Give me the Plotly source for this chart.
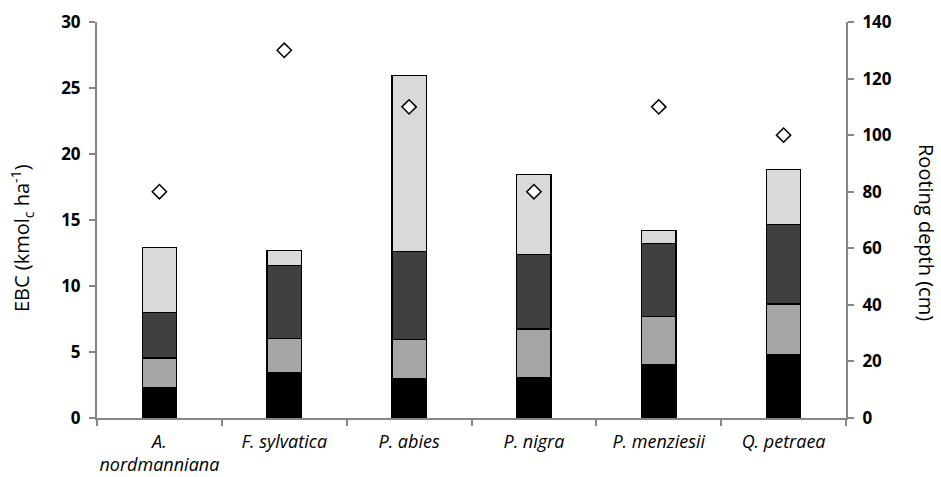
import plotly.graph_objects as go

# Tree species (x categories)
species = ["A.<br>nordmanniana", "F. sylvatica", "P. abies", "P. nigra", "P. menziesii", "Q. petraea"]

# EBC contributions per layer (kmolc ha-1), stacked bottom to top
layer_1 = [2.27, 3.45, 2.95, 3.03, 4.03, 4.79]
layer_2 = [2.27, 2.55, 2.98, 3.71, 3.66, 3.84]
layer_3 = [3.46, 5.53, 6.68, 5.62, 5.51, 6.00]
layer_4 = [4.94, 1.13, 13.32, 6.08, 0.98, 4.17]

# Rooting depth (cm), right axis
rooting_depth = [80, 130, 110, 80, 110, 100]

layers = [layer_1, layer_2, layer_3, layer_4]
fills = ["#000000", "#a6a6a6", "#404040", "#d9d9d9"]

FONT = "Open Sans"
AXIS_GREY = "#868686"

fig = go.Figure()
for vals, col in zip(layers, fills):
    fig.add_trace(go.Bar(
        x=species, y=vals,
        marker=dict(color=col, line=dict(color="#000000", width=1.2)),
        showlegend=False,
    ))

fig.add_trace(go.Scatter(
    x=species, y=rooting_depth, yaxis="y2", mode="markers",
    marker=dict(symbol="diamond", size=11, color="#ffffff",
                line=dict(color="#000000", width=1.5)),
    showlegend=False,
))

tick_bold = dict(family=FONT, size=17, weight=700, color="#000000")

fig.update_layout(
    width=941, height=477,
    margin=dict(l=97, r=95, t=22, b=59),
    paper_bgcolor="#ffffff", plot_bgcolor="#ffffff",
    barmode="stack", bargap=0.725,
    font=dict(family=FONT, color="#000000"),
    xaxis=dict(
        type="category", showgrid=False, automargin=False, tickangle=0,
        showline=True, linecolor=AXIS_GREY, linewidth=2,
        ticks="outside", tickson="boundaries", ticklen=6, tickcolor=AXIS_GREY, tickwidth=1.5,
        tickfont=dict(family=FONT, size=18, style="italic", color="#000000"),
        ticklabelstandoff=6,
    ),
    yaxis=dict(
        range=[0, 30], dtick=5, showgrid=False, zeroline=False, automargin=False,
        showline=True, linecolor=AXIS_GREY, linewidth=2,
        ticks="outside", ticklen=6, tickcolor=AXIS_GREY, tickwidth=1.5,
        tickfont=tick_bold, ticklabelstandoff=5,
    ),
    yaxis2=dict(
        range=[0, 140], dtick=20, overlaying="y", side="right",
        showgrid=False, zeroline=False, automargin=False,
        showline=True, linecolor=AXIS_GREY, linewidth=2,
        ticks="outside", ticklen=6, tickcolor=AXIS_GREY, tickwidth=1.5,
        tickfont=tick_bold, ticklabelstandoff=5,
    ),
)

# Axis titles positioned in pixels relative to the plot area
plot_w = 941 - 97 - 95
plot_h = 477 - 22 - 59
fig.add_annotation(
    text="EBC (kmol<sub>c</sub> ha<sup>-1</sup>)", xref="paper", yref="paper",
    x=(22 - 97) / plot_w, y=(418 - 238) / plot_h, xanchor="center", yanchor="middle",
    showarrow=False, textangle=-90, font=dict(family=FONT, size=20),
)
fig.add_annotation(
    text="Rooting depth (cm)", xref="paper", yref="paper",
    x=(927 - 97) / plot_w, y=(418 - 232) / plot_h, xanchor="center", yanchor="middle",
    showarrow=False, textangle=90, font=dict(family=FONT, size=20),
)

fig.write_html("out.html")
